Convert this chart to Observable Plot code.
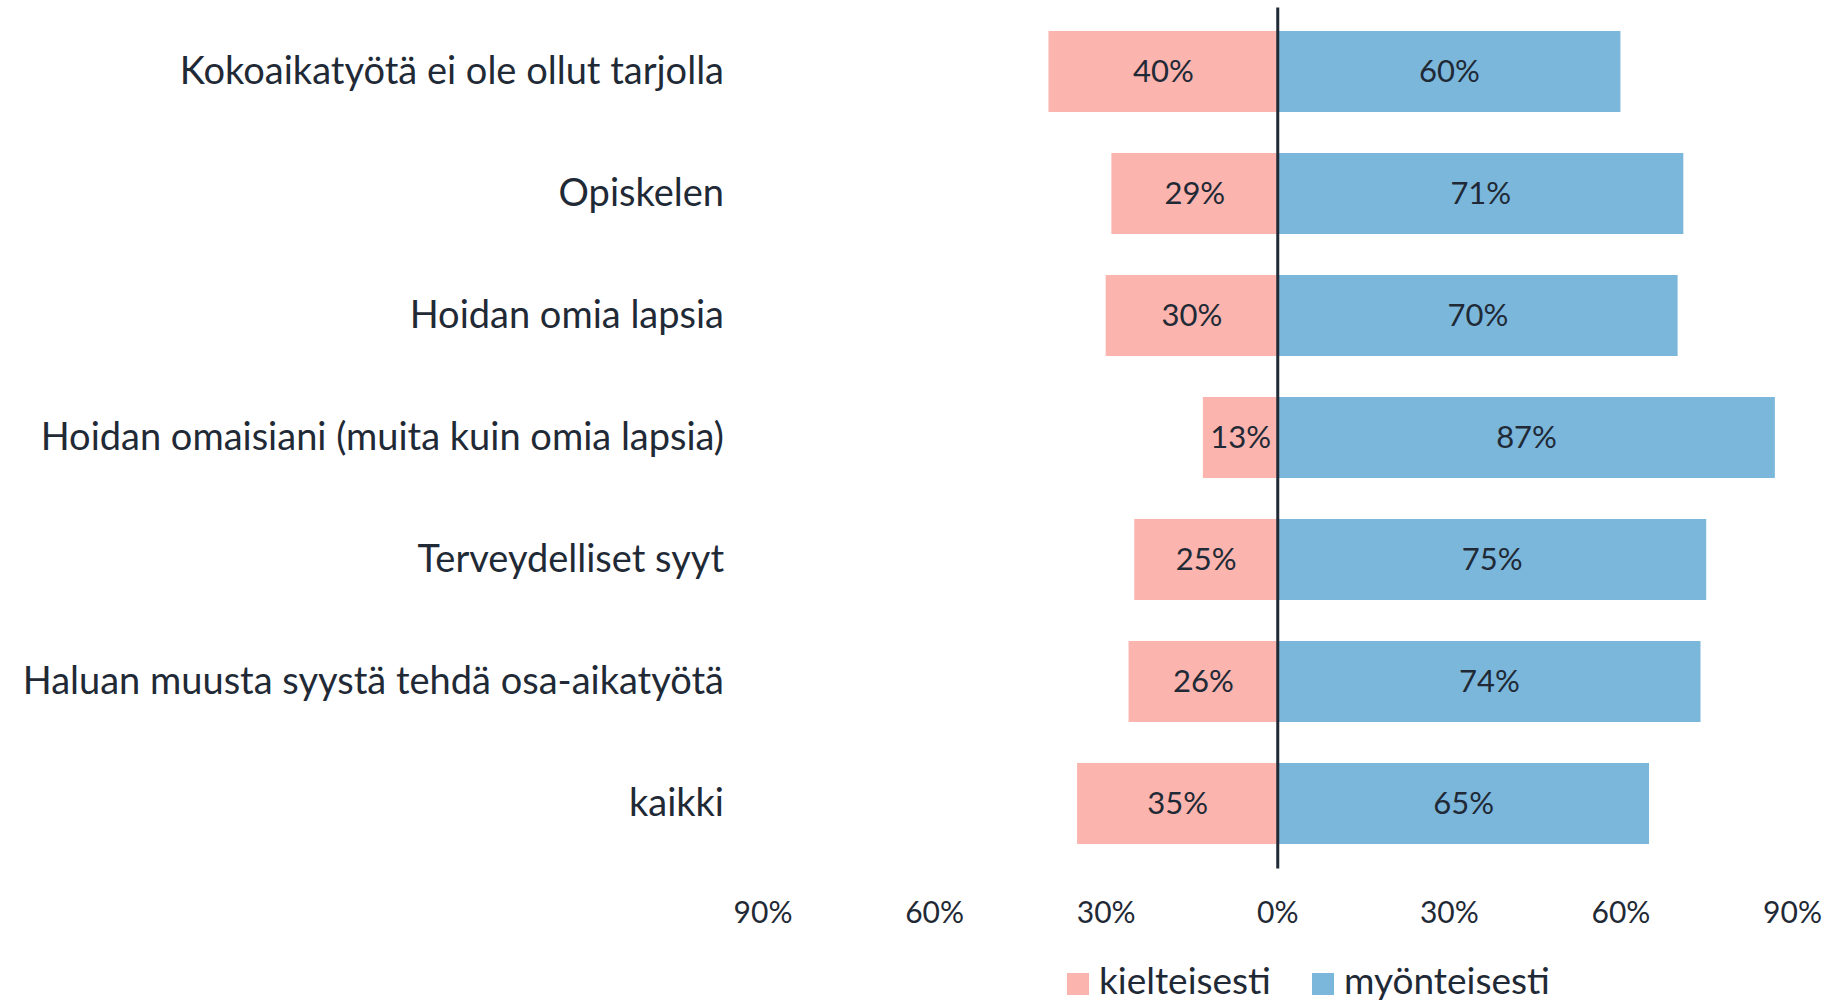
<!DOCTYPE html>
<html>
<head>
<meta charset="utf-8">
<script src="https://cdn.jsdelivr.net/npm/d3@7"></script>
<script src="https://cdn.jsdelivr.net/npm/@observablehq/plot@0.6"></script>
<style>
  html, body { margin: 0; padding: 0; background: #fff; }
  body { font-family: Lato, "Noto Sans", sans-serif; color: #1f2a36; }
  #chart { width: 1829px; }
  #chart svg { display: block; }
  .legend { height: 54px; box-sizing: border-box; padding-left: 1067px; padding-bottom: 6px; display: flex; align-items: flex-end; font-size: 37px; line-height: 37px; color: #1f2a36; }
  .legend .sw { width: 22px; height: 22px; display: inline-block; margin-right: 10px; margin-bottom: 3px; }
  .legend .item { display: flex; align-items: flex-end; margin-right: 41px; }
</style>
</head>
<body>
<div id="chart"></div>
<script>
const categories = [
  "Kokoaikatyötä ei ole ollut tarjolla",
  "Opiskelen",
  "Hoidan omia lapsia",
  "Hoidan omaisiani (muita kuin omia lapsia)",
  "Terveydelliset syyt",
  "Haluan muusta syystä tehdä osa-aikatyötä",
  "kaikki"
];
const kielteisesti = [40, 29, 30, 13, 25, 26, 35];
const myonteisesti = [60, 71, 70, 87, 75, 74, 65];
const seriesNames = ["kielteisesti", "myönteisesti"];
const seriesColors = ["#fbb4ae", "#7bb6db"];
const xTicks = [-90, -60, -30, 0, 30, 60, 90];

const rows = [];
categories.forEach((c, i) => {
  rows.push({cat: c, series: seriesNames[0], x1: -kielteisesti[i], x2: 0, v: kielteisesti[i]});
  rows.push({cat: c, series: seriesNames[1], x1: 0, x2: myonteisesti[i], v: myonteisesti[i]});
});

const chart = Plot.plot({
  width: 1829,
  height: 950,
  marginLeft: 762.5,
  marginRight: 37,
  marginTop: 7.5,
  marginBottom: 81.5,
  style: {fontFamily: "Lato, 'Noto Sans', sans-serif", color: "#1f2a36", background: "#fff"},
  x: {domain: [-90, 90]},
  y: {domain: categories, paddingInner: 0.333, paddingOuter: 0.1667},
  color: {domain: seriesNames, range: seriesColors},
  marks: [
    Plot.barX(rows, {y: "cat", x1: "x1", x2: "x2", fill: "series"}),
    Plot.text(rows, {y: "cat", x: d => (d.x1 + d.x2) / 2, text: d => d.v + "%", fontSize: 31, fill: "#1f2a36"}),
    Plot.ruleX([0], {stroke: "#1f2a36", strokeWidth: 3}),
    Plot.axisX({ticks: xTicks, tickFormat: d => Math.abs(d) + "%", tickSize: 0, tickPadding: 33, fontSize: 30, label: null, fill: "#1f2a36"}),
    Plot.axisY({tickSize: 0, tickPadding: 39, fontSize: 38, label: null, fill: "#1f2a36"})
  ]
});
const el = document.getElementById("chart");
el.appendChild(chart);

const legend = document.createElement("div");
legend.className = "legend";
seriesNames.forEach((n, i) => {
  const item = document.createElement("div");
  item.className = "item";
  const sw = document.createElement("span");
  sw.className = "sw";
  sw.style.background = seriesColors[i];
  item.appendChild(sw);
  item.appendChild(document.createTextNode(n));
  legend.appendChild(item);
});
el.appendChild(legend);
</script>
</body>
</html>
